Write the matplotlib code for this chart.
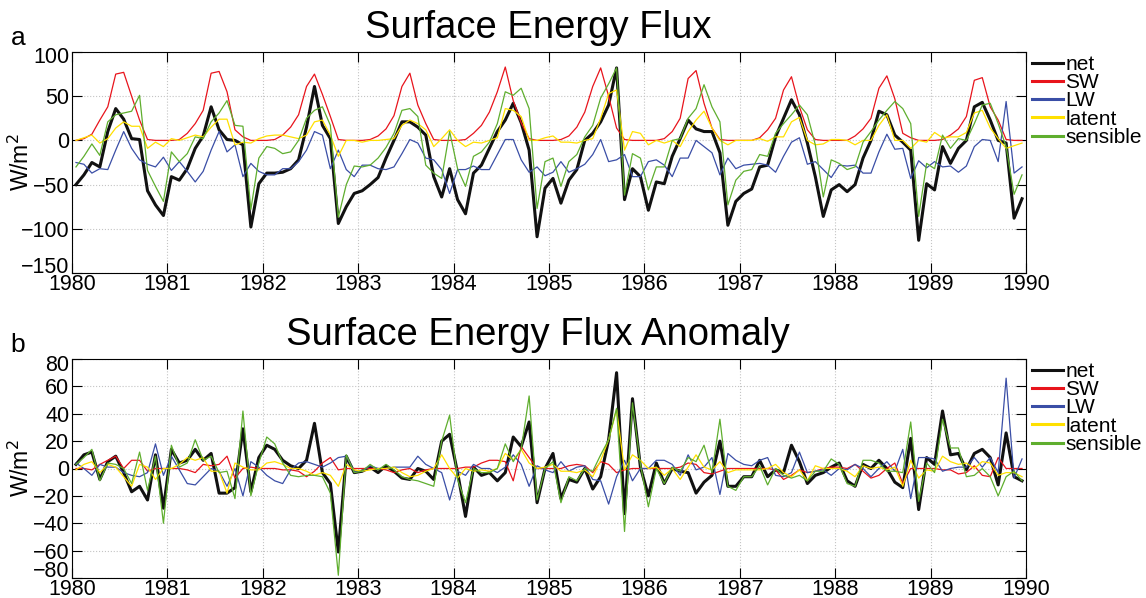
import numpy as np
import matplotlib.pyplot as plt
import matplotlib.transforms as mtransforms

# monthly values 1980-1989 (W/m^2)
net = [-50, -39, -25, -30, 10, 36, 24, 2, 1, -57, -73, -85,
       -41, -45, -32, -9, 5, 38, 12, 1, 0, -5, -98, -49,
       -37, -37, -36, -32, -22, 15, 61, 17, 2, -94, -75, -60,
       -57, -50, -42, -20, 0, 21, 21, 15, 6, -41, -64, -32,
       -67, -83, -37, -28, -9, 10, 23, 42, 20, -11, -109, -54,
       -43, -71, -45, -33, 0, 8, 21, 40, 82, -67, -32, -41,
       -79, -47, -49, -18, 2, 23, 13, 10, 10, -14, -96, -69,
       -60, -55, -30, -28, 4, 25, 46, 29, -3, -41, -86, -56,
       -50, -58, -50, -20, 0, 33, 29, 6, -2, -11, -113, -49,
       -56, -7, -26, -9, 0, 38, 43, 23, 0, -3, -88, -66]
sw = [0, 2, 7, 23, 38, 75, 77, 50, 23, 1, 0, 0,
      0, 1, 8, 19, 34, 76, 78, 55, 12, 4, 0, 0,
      0, 1, 6, 15, 29, 61, 75, 52, 27, 1, 0, 0,
      0, 1, 5, 13, 28, 61, 76, 40, 19, 1, 0, 0,
      0, 1, 8, 17, 32, 55, 83, 45, 20, 2, 0, 0,
      0, 1, 5, 15, 32, 61, 82, 50, 14, 1, 0, 0,
      0, 0, 2, 10, 25, 70, 79, 42, 14, 1, 0, 0,
      0, 0, 3, 12, 25, 57, 72, 38, 12, 1, 0, 0,
      0, 0, 5, 13, 25, 59, 73, 47, 8, 3, 0, 0,
      0, 1, 6, 13, 27, 68, 71, 38, 23, 1, 0, 0]
lw = [-25, -27, -37, -32, -33, -11, 10, -9, -22, -27, -30, -19,
      -34, -24, -35, -47, -35, -11, 10, -13, -5, -41, -26, -35,
      -39, -39, -32, -32, -24, -11, 10, 6, -32, -11, -33, -41,
      -28, -28, -32, -33, -30, -15, 1, -3, -20, -22, -33, -60,
      -33, -33, -29, -33, -33, -16, 1, 1, -22, -36, -30, -40,
      -36, -24, -36, -32, -27, -16, 1, -24, -22, -16, -41, -41,
      -24, -22, -28, -41, -20, -20, 0, -7, -14, -39, -20, -32,
      -28, -27, -26, -28, -36, -18, -2, 3, -27, -24, -33, -42,
      -28, -29, -28, -37, -37, -13, 7, -10, -9, -43, -23, -31,
      -24, -30, -29, -36, -29, -7, 1, 0, -24, 44, -37, -30]
latent = [0, 3, 6, -3, 2, 14, 21, 16, 16, -9, -2, -7,
          2, 0, 3, 6, 4, 15, 24, 24, -5, -2, -3, 2,
          5, 6, 6, 4, 2, 6, 21, 23, 6, -18, 0, 0,
          -2, 0, 0, 1, 2, 17, 23, 19, 12, -7, 2, 12,
          0, -7, -2, -3, 0, 3, 36, 34, 27, 0, 0, 3,
          5, -2, -2, -3, 0, 2, 25, 53, 57, -11, 10, 8,
          -5, 0, -3, 0, -7, 10, 23, 33, 14, 0, -5, 0,
          0, 0, 2, -1, 4, 4, 21, 26, 0, -5, -4, 1,
          1, 0, -5, 0, 0, 17, 29, 0, 0, -9, 0, -2,
          9, 3, 4, 4, 9, 31, 34, 14, 2, -9, -6, -3]
sensible = [-30, -18, -4, -17, 21, 29, 31, 33, 51, -34, -52, -69,
            -13, -24, -15, 4, 2, 21, 31, 45, 17, 16, -78, -20,
            -7, -9, -15, -13, 0, 25, 34, 38, 17, -87, -50, -29,
            -30, -28, -20, -8, 8, 34, 36, 27, -28, -37, -43, 10,
            -32, -52, -18, -13, -2, 19, 55, 51, 59, 36, -77, -24,
            -20, -52, -24, -16, 4, 17, 48, 64, 82, -62, -15, -20,
            -56, -30, -30, 0, 2, 25, 36, 63, 38, 21, -73, -45,
            -35, -33, -16, -18, 8, 19, 29, 40, 29, -5, -64, -22,
            -26, -33, -30, -2, 10, 23, 34, 44, 36, 19, -86, -26,
            -32, 6, -9, 2, 0, 19, 40, 42, 19, -7, -61, -39]

# anomalies
net_a = [3, 10, 12, -8, 5, 9, -3, -17, -13, -23, 10, -29,
         14, 4, 6, 14, 6, 11, -18, -18, -14, 29, -17, 8,
         17, 14, 6, 2, 0, 6, 33, -3, -11, -61, 9, -3,
         -2, 1, -3, 2, -2, -7, -8, 0, -2, -8, 20, 25,
         -3, -35, 1, -5, -3, -9, -3, 23, 16, 34, -25, 0,
         11, -22, -8, -10, 0, -15, -6, 21, 70, -33, 51, 1,
         -20, 4, -11, 0, -2, -3, -18, -10, -5, 20, -13, -13,
         -6, -6, 6, -6, -1, -3, 17, 5, -11, -5, -3, 1,
         4, -9, -13, 3, 0, 6, 0, -10, -14, 22, -30, 8,
         3, 42, 10, 11, -1, 11, 14, 8, -12, 26, -6, -9]
sw_a = [0, 0, -1, 3, 6, 9, 0, 6, 6, -2, 0, 0,
        0, 0, -1, -3, 3, 2, 3, 9, -7, 0, 1, 0,
        0, 0, -1, -1, -2, -6, -2, 4, 8, -1, 0, 0,
        0, 0, 0, -1, -3, -1, 0, -3, -1, 0, 0, 0,
        0, 1, 1, 4, 6, 6, 5, -9, 16, 8, 0, 0,
        0, 0, 2, 3, 2, -3, 5, 3, -3, -1, 0, 0,
        0, 0, 0, 0, 1, 4, 3, -3, -4, -2, 0, 0,
        0, 0, 0, 0, -1, -8, -5, -1, -3, -2, 0, 1,
        1, 0, 3, -2, -7, -5, 0, 4, -11, 0, 0, 0,
        0, -1, -1, -4, -3, 2, -5, -6, 8, 0, 0, 0]
lw_a = [4, 0, -5, 3, 1, 1, -3, -5, -6, -3, 18, -5,
        9, -1, -11, -12, -6, 0, -2, -13, 0, -20, 5, 1,
        -5, -9, -11, -1, 4, 5, 3, 1, 4, 8, 9, -2,
        -2, 2, 0, 0, 1, 1, 1, 9, 3, 0, -3, -23,
        -2, -5, 3, 0, 0, -3, 1, 10, 3, -13, 2, -1,
        -3, 5, -2, 1, 2, -8, -9, -26, -6, 6, -9, 0,
        0, 6, 6, 3, -5, 10, -1, 1, 8, -19, 11, 6,
        3, 2, 6, 8, -5, -6, -3, 12, -3, -2, -1, -5,
        0, -1, 3, 0, -6, 0, 5, -2, 14, -22, 8, 8,
        7, -2, 0, 1, 1, 8, 1, 8, -3, 66, -7, 7]
latent_a = [-1, 3, 5, -3, 3, 1, -6, -13, 3, 1, -8, 0,
            0, 3, 8, 6, 8, -2, -2, -18, 4, 1, -1, -1,
            4, 5, 3, 0, 0, -2, -5, -3, -5, -13, 3, -1,
            -2, -1, 0, 0, 1, -3, -6, -5, -2, 0, 10, 0,
            -7, 0, -2, -1, -2, 0, 11, 6, 14, 4, 0, 1,
            3, -2, -2, -3, -1, -6, 6, 21, 43, -1, 10, 6,
            0, 1, -5, 0, -8, 1, 10, 1, -1, 5, -3, -1,
            -1, -1, -1, 0, 3, -3, -6, -1, -9, 2, 0, 0,
            0, -2, -6, 2, 0, 1, -1, 1, -13, 6, -7, -1,
            -2, 9, 5, 3, 4, 0, 5, 4, -5, -3, -3, -6]
sensible_a = [3, 8, 14, -9, 4, 3, 0, -11, 12, -16, 9, -40,
              17, 1, 4, 21, 6, 9, -3, -2, -22, 42, -20, 4,
              23, 18, 4, -5, -6, -5, -5, -6, -18, -78, 10, -3,
              -2, 3, -1, 3, -1, -6, -8, -9, -11, -13, 20, 39,
              -8, -25, 0, -3, -3, 0, 18, 5, 14, 53, -23, 0,
              5, -25, -6, -9, 0, -2, 10, 21, 44, -46, 48, 3,
              -28, 0, -11, 1, -2, 8, 5, 17, -3, 36, -13, -16,
              -6, -6, 2, -12, 0, -5, -7, -5, -9, -2, -2, 7,
              3, -11, -13, 6, 6, 4, -2, -2, -3, 34, -24, 4,
              -3, 36, 15, 15, -6, -5, 0, -6, -20, -6, -2, -9]

labels = ['net', 'SW', 'LW', 'latent', 'sensible']
colors = ['#111111', '#e8141c', '#3a4ea6', '#ffe000', '#5fae2e']
widths = [2.2, 0.9, 0.9, 0.9, 0.9]

plt.rcParams['font.family'] = ['Liberation Sans', 'DejaVu Sans']

t = 1980 + (np.arange(120) + 0.5) / 12.0


def draw_panel(ax, series, ylim, yticks, title, letter, top_shift, bot_shift):
    for s, lab, c, w in zip(series, labels, colors, widths):
        ax.plot(t, s, color=c, lw=w, label=lab)
    ax.set_xlim(1980, 1990)
    ax.set_ylim(*ylim)
    ax.set_xticks(range(1980, 1991))
    ax.set_yticks(yticks)
    ax.grid(True, linestyle=':', color='#c4c4c4', lw=0.8)
    ax.tick_params(direction='in', top=True, right=True, length=7,
                   labelsize=15.5, pad=2)
    ax.tick_params(axis='x', pad=0.5)
    ax.set_ylabel('W/m$^2$', fontsize=16.5)
    ax.yaxis.set_label_coords(-0.040, 0.5)
    # keep end labels inside the axis extent, as in the original
    ylabs = ax.get_yticklabels()
    ylabs[0].set_transform(ylabs[0].get_transform() +
                           mtransforms.ScaledTranslation(0, bot_shift / 100, fig.dpi_scale_trans))
    ylabs[-1].set_transform(ylabs[-1].get_transform() +
                            mtransforms.ScaledTranslation(0, -top_shift / 100, fig.dpi_scale_trans))
    leg = ax.legend(loc='upper left', bbox_to_anchor=(1.003, 1.0),
                    frameon=False, fontsize=15, handlelength=1.5,
                    handletextpad=0.1, labelspacing=-0.04, borderpad=0.15,
                    borderaxespad=0)
    for ln in leg.get_lines():
        ln.set_linewidth(2.2)
    pos = ax.get_position()
    fig.text(538 / 1146, pos.y1 + 0.04, title, ha='center', va='center',
             fontsize=27.5)
    fig.text(18 / 1146, pos.y1 + 0.023, letter, ha='center', va='center',
             fontsize=19)


fig = plt.figure(figsize=(11.46, 5.98), dpi=100)
ax1 = fig.add_axes([72 / 1146, 1 - 273 / 598, 954 / 1146, 221 / 598])
ax2 = fig.add_axes([72 / 1146, 1 - 578 / 598, 954 / 1146, 219 / 598])

draw_panel(ax1, [net, sw, lw, latent, sensible], (-150, 100),
           range(-150, 101, 50), 'Surface Energy Flux', 'a', 3, 8)
draw_panel(ax2, [net_a, sw_a, lw_a, latent_a, sensible_a], (-80, 80),
           range(-80, 81, 20), 'Surface Energy Flux Anomaly', 'b', 4, 9)

fig.savefig('out.png', dpi=100)
